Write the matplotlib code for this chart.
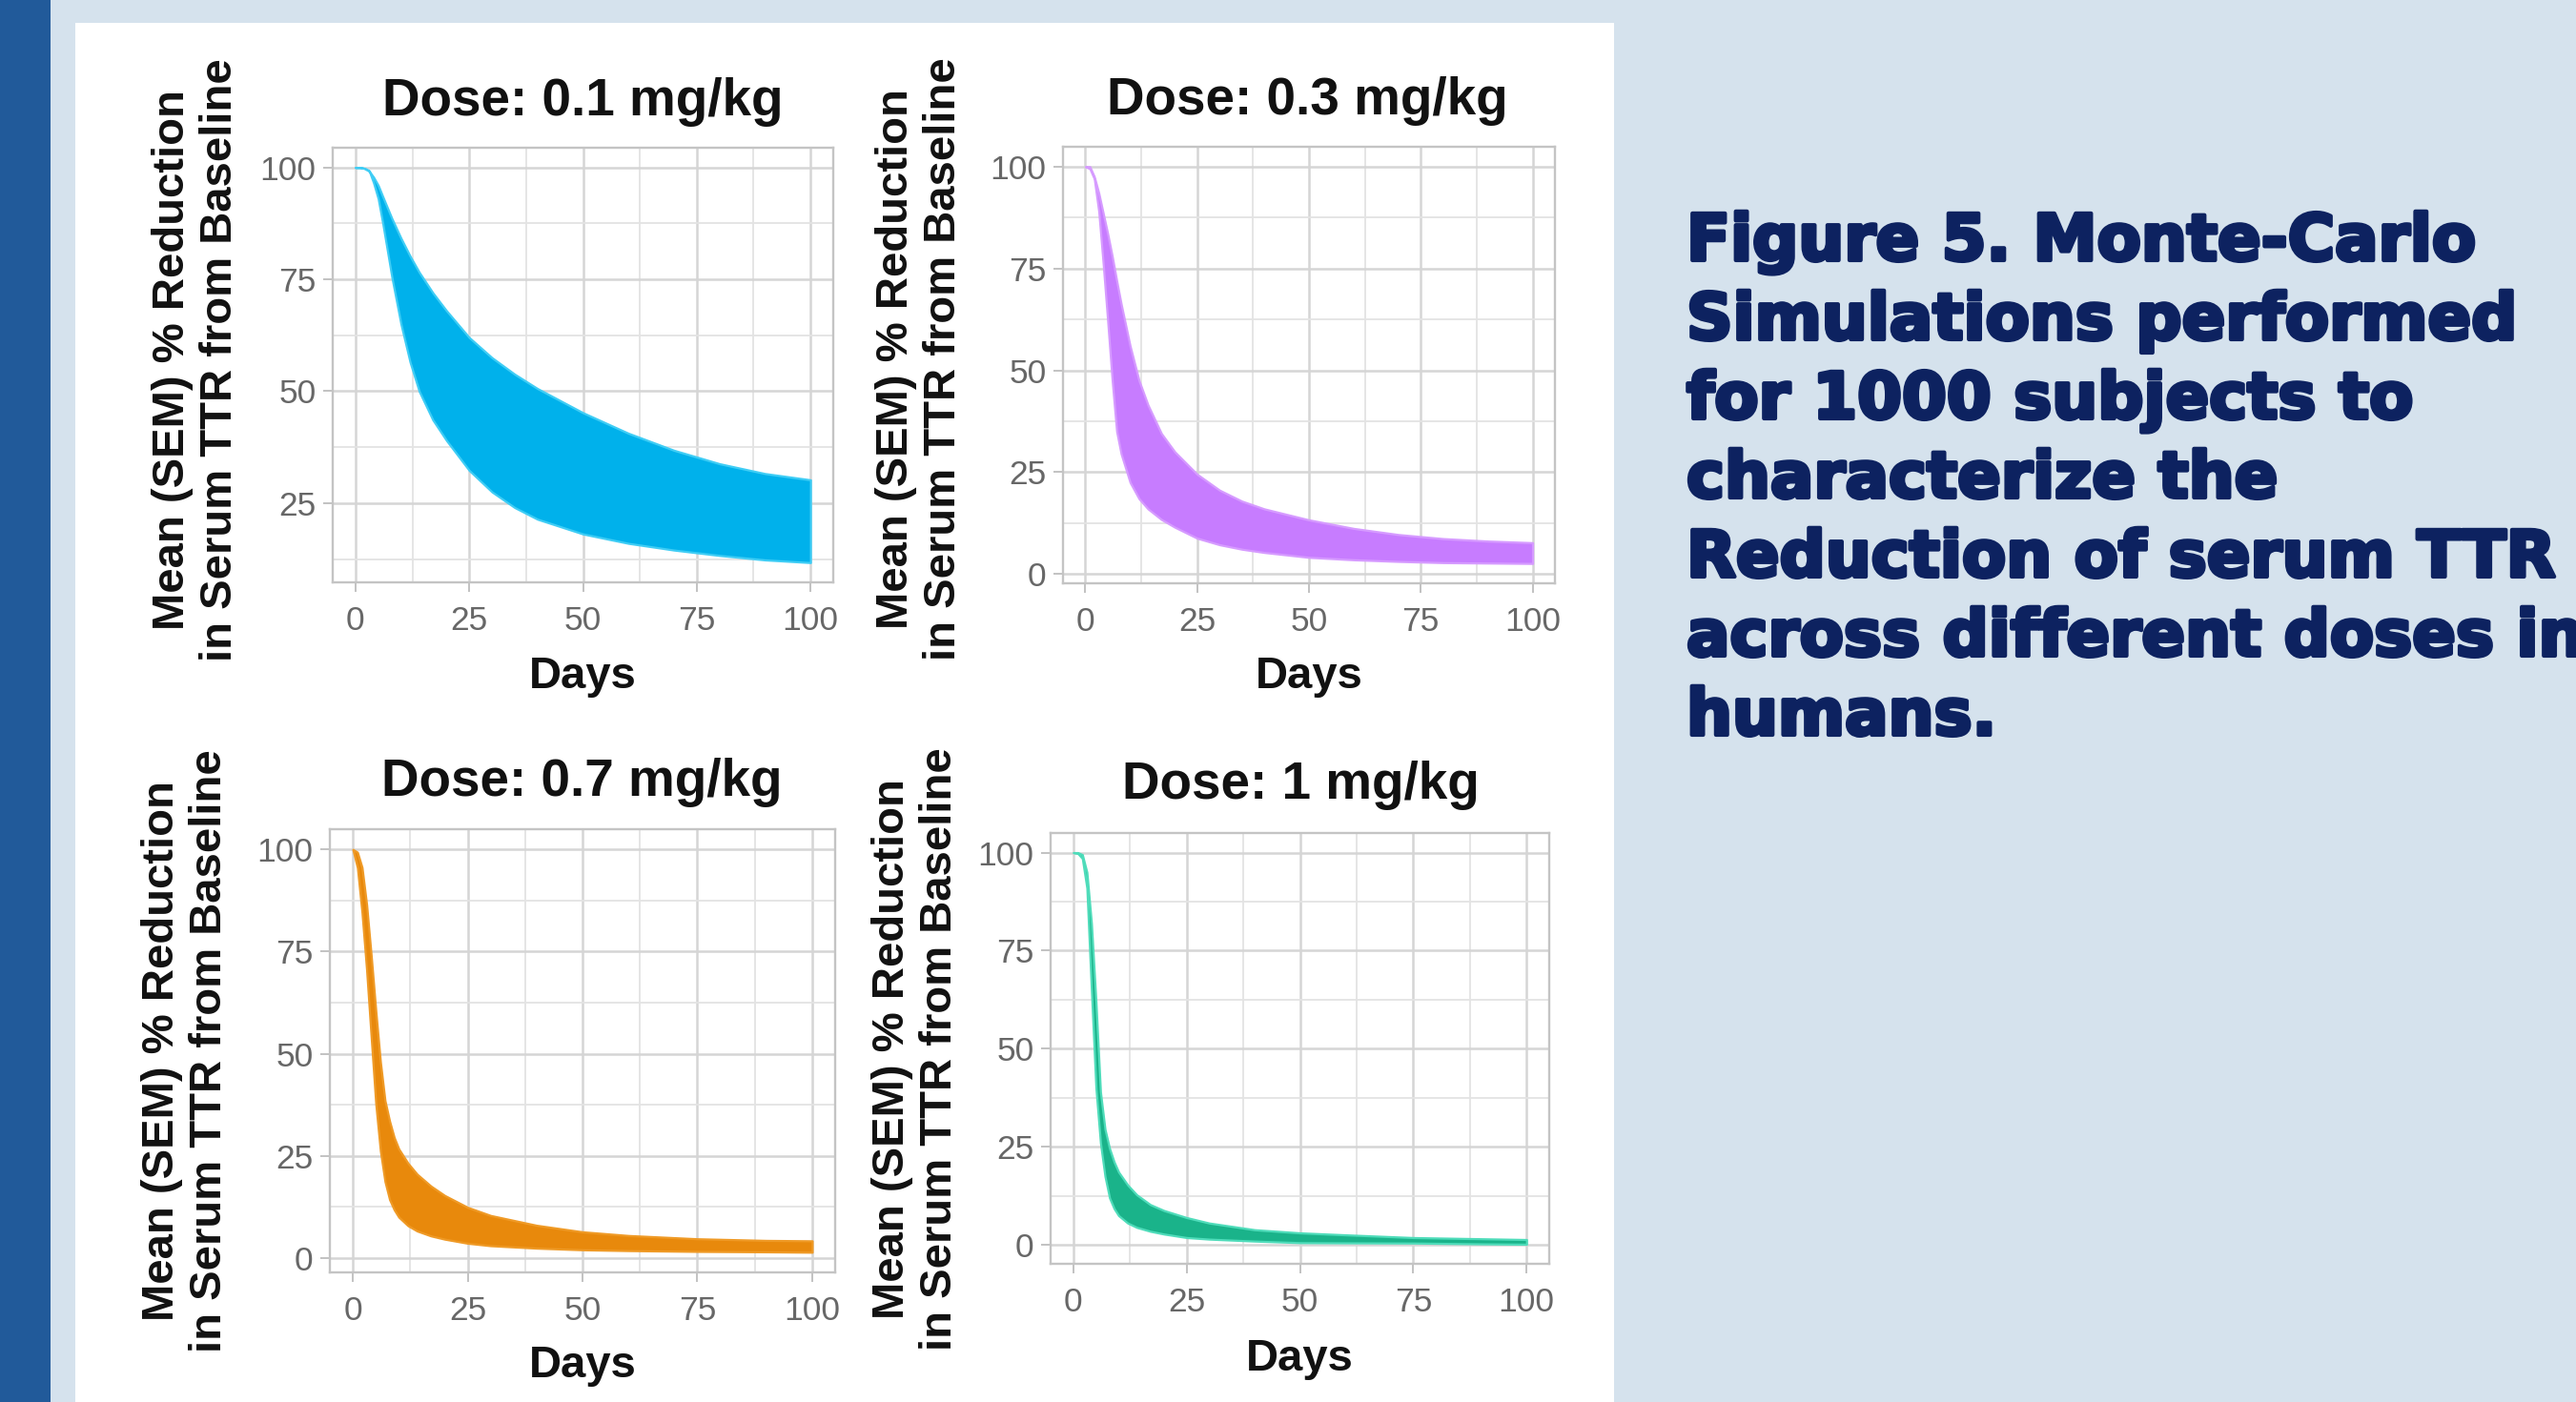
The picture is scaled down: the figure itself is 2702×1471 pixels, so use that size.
import matplotlib
matplotlib.use("Agg")
import matplotlib.pyplot as plt
import matplotlib.patheffects as pe
from matplotlib.patches import Rectangle
from matplotlib.ticker import MultipleLocator

W, H = 2702, 1471

# ---- data (days, upper / lower edge of the 1000 subject band)
days_01 = [0, 1, 2, 3, 4, 5, 6, 8, 10, 12, 14, 17, 20, 25, 30, 35, 40, 50, 60, 70, 80, 90, 100]
upper_01 = [100, 100, 99.8, 99.2, 97.8, 96, 93.5, 88.6, 84.2, 80.2, 76.6, 72, 68, 62, 57.5, 53.8, 50.6,
            45.2, 40.6, 36.8, 33.8, 31.6, 30.2]
lower_01 = [100, 100, 99.8, 99.3, 96.5, 93, 87.5, 75.5, 65, 56.5, 50, 43.6, 39, 32.3, 27.5, 24, 21.4,
            18.1, 16, 14.5, 13.3, 12.3, 11.7]

days_03 = [0, 1, 2, 3, 4, 5, 6, 7, 8, 10, 12, 14, 17, 20, 25, 30, 35, 40, 50, 60, 70, 80, 90, 100]
upper_03 = [100, 100, 97.5, 93.5, 88.5, 83.5, 78, 72, 66.3, 56, 47.5, 41.5, 34.5, 30, 24.5, 20.6,
            17.9, 16, 13.3, 11.2, 9.7, 8.7, 8.1, 7.7]
lower_03 = [100, 99.5, 97, 89, 76, 62, 47.5, 35, 29.5, 22.5, 18.5, 16, 13.4, 11.5, 8.8, 7.2, 6.1, 5.3,
            4.1, 3.5, 3.1, 2.8, 2.7, 2.6]

days_07 = [0, 1, 2, 3, 4, 5, 6, 7, 8, 9, 10, 12, 14, 17, 20, 25, 30, 40, 50, 60, 75, 90, 100]
upper_07 = [100, 99.3, 95.6, 86.5, 74, 60.5, 48, 38.5, 33.5, 29.5, 26.7, 23.2, 20.5, 17.6, 15.3, 12.4,
            10.4, 8, 6.4, 5.5, 4.7, 4.3, 4.2]
lower_07 = [100, 95.5, 84.5, 70.5, 54, 37.7, 26.2, 18.7, 14.3, 11.8, 10, 7.9, 6.6, 5.4, 4.6, 3.6, 3,
            2.4, 2, 1.8, 1.6, 1.5, 1.4]

days_1 = [0, 1, 2, 3, 4, 5, 6, 7, 8, 9, 10, 12, 14, 17, 20, 25, 30, 40, 50, 60, 75, 90, 100]
upper_1 = [100, 100, 99.5, 95, 82, 62, 39, 29.5, 24.6, 21.2, 18.6, 15.3, 12.8, 10.3, 8.8, 7, 5.6, 3.9,
           3.1, 2.6, 1.9, 1.6, 1.4]
lower_1 = [100, 99.8, 98.5, 91, 65, 40, 26, 17.5, 12, 9.3, 7.5, 5.6, 4.5, 3.5, 2.8, 1.9, 1.5, 1, 0.6,
           0.55, 0.5, 0.3, 0.2]

titles = ["Dose: 0.1 mg/kg", "Dose: 0.3 mg/kg", "Dose: 0.7 mg/kg", "Dose: 1 mg/kg"]
fill_colors = ["#00b1eb", "#c77cff", "#e8890c", "#1ab38a"]
edge_colors = ["#3fcdf5", "#d69bff", "#ef9a26", "#4fdcba"]
x_ticks = [0, 25, 50, 75, 100]
ylabel = "Mean (SEM) % Reduction\nin Serum TTR from Baseline"
xlabel = "Days"
caption = ["Figure 5. Monte-Carlo",
           "Simulations performed",
           "for 1000 subjects to",
           "characterize the",
           "Reduction of serum TTR",
           "across different doses in",
           "humans."]

panels = [(days_01, upper_01, lower_01),
          (days_03, upper_03, lower_03),
          (days_07, upper_07, lower_07),
          (days_1, upper_1, lower_1)]

# ---- layout in pixels (left, right, top, bottom of each plot panel)
boxes = [(349, 874, 155, 611), (1115, 1631, 154, 612),
         (346, 876, 870, 1335), (1102, 1625, 874, 1326)]
title_pos = [(611, 121), (1371, 120), (610, 835), (1364, 838)]
ylab_pos = [(206, 378), (965, 377), (195, 1103), (961, 1101)]
xlab_pos = [(611, 710), (1373, 710), (611, 1433), (1363, 1426)]

FONT = "Liberation Sans"


def fx(px):
    return px / W


def fy(py):
    return 1 - py / H


fig = plt.figure(figsize=(W / 100, H / 100), dpi=100)
fig.patch.set_facecolor("#d5e2ed")
fig.patches.append(Rectangle((0, 0), fx(53), 1, transform=fig.transFigure,
                             facecolor="#215a9a", edgecolor="none", zorder=-2))
fig.patches.append(Rectangle((fx(79), 0), fx(1693) - fx(79), fy(24), transform=fig.transFigure,
                             facecolor="white", edgecolor="none", zorder=-2))

for i, (days, up, lo) in enumerate(panels):
    l, r, t, b = boxes[i]
    ax = fig.add_axes([fx(l), fy(b), fx(r) - fx(l), (b - t) / H])
    ax.set_zorder(1)
    ax.set_facecolor("white")
    ax.fill_between(days, lo, up, facecolor=fill_colors[i], edgecolor=edge_colors[i],
                    linewidth=1.6, zorder=3)

    # ggplot style 5% expansion
    lo_min, up_max = min(lo), max(up)
    pad = 0.05 * (up_max - lo_min)
    ax.set_ylim(lo_min - pad, up_max + pad)
    ax.set_xlim(-5, 105)

    ax.set_xticks(x_ticks)
    ax.yaxis.set_major_locator(MultipleLocator(25))
    ax.xaxis.set_minor_locator(MultipleLocator(12.5))
    ax.yaxis.set_minor_locator(MultipleLocator(12.5))
    ax.grid(which="major", color="#d5d5d5", linewidth=1.8)
    ax.grid(which="minor", color="#e3e3e3", linewidth=1.3)
    ax.set_axisbelow(True)

    ax.tick_params(which="major", direction="out", length=7, width=1.4, color="#c2c2c2",
                   labelsize=25.5, labelcolor="#676767")
    ax.tick_params(axis="x", pad=10)
    ax.tick_params(axis="y", pad=5.5)
    ax.tick_params(which="minor", length=0)
    for lab in ax.get_xticklabels() + ax.get_yticklabels():
        lab.set_fontfamily(FONT)
    for sp in ax.spines.values():
        sp.set_color("#c4c4c4")
        sp.set_linewidth(1.7)

    tx, ty = title_pos[i]
    fig.text(fx(tx), fy(ty), titles[i], ha="center", va="baseline", fontsize=39.5,
             fontweight="bold", family=FONT, color="#111111")
    yx, yy = ylab_pos[i]
    fig.text(fx(yx), fy(yy), ylabel, ha="center", va="center", rotation=90,
             multialignment="center", linespacing=1.2, fontsize=34, fontweight="bold",
             family=FONT, color="#111111")
    xx, xy = xlab_pos[i]
    fig.text(fx(xx), fy(xy), xlabel, ha="center", va="center", fontsize=34,
             fontweight="bold", family=FONT, color="#111111")

# caption on the right
for k, line in enumerate(caption):
    fig.text(fx(1769), fy(273 + 83 * k), line, ha="left", va="baseline", fontsize=48.5,
             fontweight="bold", family="DejaVu Sans", color="#0d2260",
             path_effects=[pe.withStroke(linewidth=3, foreground="#0d2260")])

fig.savefig("out.png", dpi=100, facecolor=fig.get_facecolor())
